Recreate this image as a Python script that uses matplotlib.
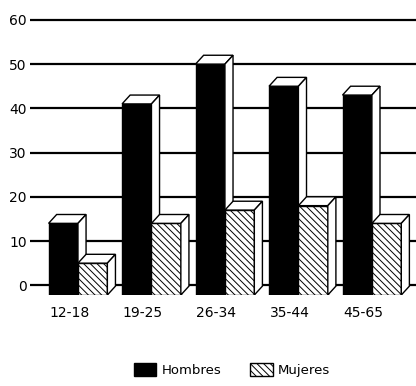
import matplotlib.pyplot as plt
from matplotlib.patches import Polygon, Patch

# Datos
grupos = ['12-18', '19-25', '26-34', '35-44', '45-65']
hombres = [14, 41, 50, 45, 43]
mujeres = [5, 14, 17, 18, 14]
yticks = [0, 10, 20, 30, 40, 50, 60]
series = ['Hombres', 'Mujeres']

# Geometria del efecto 3D
FLOOR = -2.2
W = 0.4
DX = 0.11
DY = 2.0
HATCH = '\\\\\\\\\\'

plt.rcParams['hatch.linewidth'] = 0.7


def bar3d(ax, xs, vals, face, hatch, z):
    ax.bar(xs, [v - FLOOR for v in vals], bottom=FLOOR, width=W,
           color=face, edgecolor='black', hatch=hatch, lw=1, zorder=z)
    for x, v in zip(xs, vals):
        x0, x1 = x - W / 2, x + W / 2
        top = [(x0, v), (x0 + DX, v + DY), (x1 + DX, v + DY), (x1, v)]
        side = [(x1, FLOOR), (x1 + DX, FLOOR + DY), (x1 + DX, v + DY), (x1, v)]
        for pts in (top, side):
            ax.add_patch(Polygon(pts, closed=True, facecolor='white',
                                 edgecolor='black', lw=1, zorder=z))


fig = plt.figure(figsize=(4.16, 3.86), dpi=100)
ax = fig.add_axes([38 / 416, 91 / 386, 378 / 416, 280 / 386])

x = list(range(len(grupos)))
for t in yticks:
    ax.axhline(t, color='black', lw=1.6, zorder=1)

bar3d(ax, [i - W / 2 for i in x], hombres, 'black', None, 2)
bar3d(ax, [i + W / 2 for i in x], mujeres, 'white', HATCH, 4)

ax.set_xlim(-0.544, 4.6)
ax.set_ylim(FLOOR, 61.1)
ax.set_yticks(yticks)
ax.set_yticklabels([str(t) for t in yticks], fontsize=10)
ax.set_xticks([i - 0.12 for i in x])
ax.set_xticklabels(grupos, fontsize=10)
ax.tick_params(axis='y', length=6, width=1.6, pad=2)
ax.tick_params(axis='x', length=0, pad=8)
for s in ax.spines.values():
    s.set_visible(False)

handles = [Patch(facecolor='black', edgecolor='black'),
           Patch(facecolor='white', edgecolor='black', hatch=HATCH)]
fig.legend(handles, series, loc='center', bbox_to_anchor=(232 / 416, 16 / 386),
           ncol=2, frameon=False, fontsize=9.5, handlelength=1.7,
           handleheight=1.1, handletextpad=0.4, columnspacing=2.2)

fig.savefig('out.png', dpi=100)
